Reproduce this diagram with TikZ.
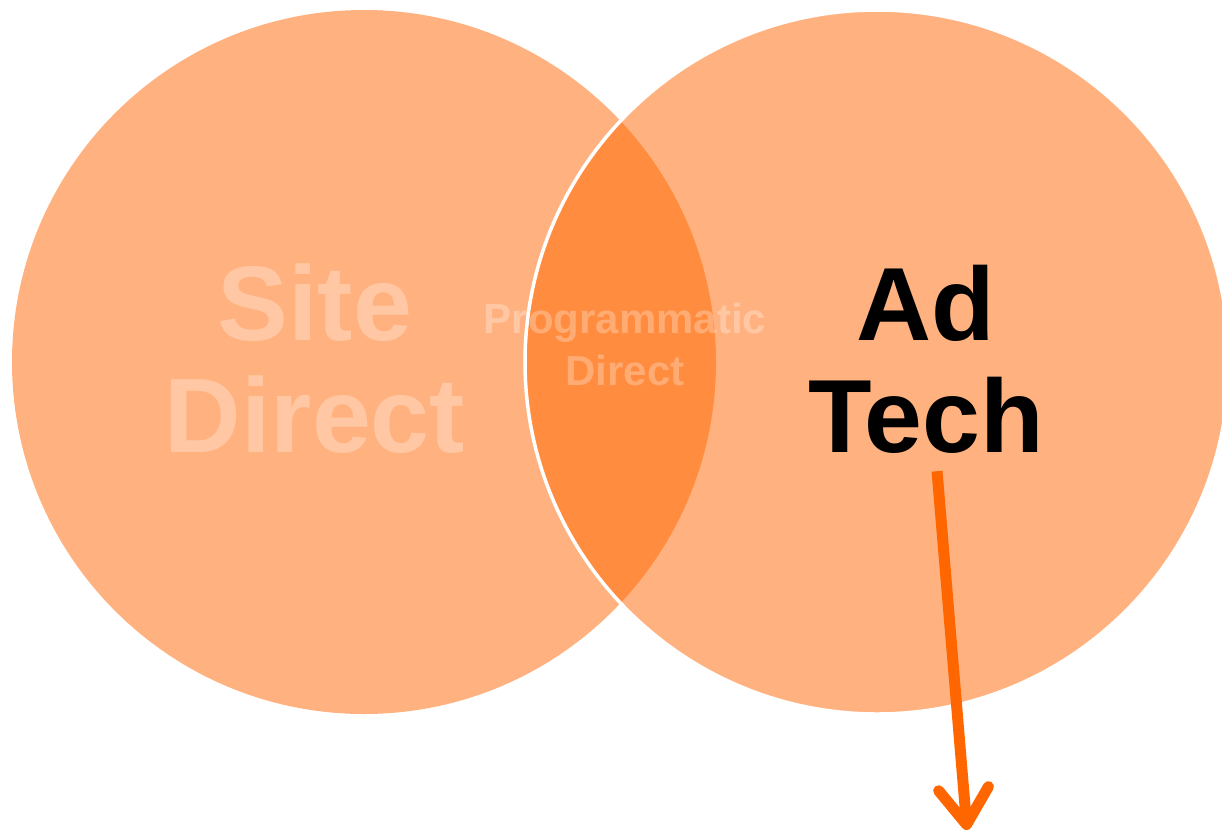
\documentclass[tikz,border=0pt]{standalone}
\usepackage{fontspec}
\setmainfont{Liberation Sans}
\usetikzlibrary{arrows.meta}

\definecolor{adorange}{HTML}{FF6600}

\tikzset{
    bubble/.style = {fill = adorange, fill opacity = 0.5},
    faded/.style = {text = white, text opacity = 0.28, align = center, inner sep = 0pt, anchor = base},
    pointer/.style = {draw = adorange, line width = 11pt, -{Straight Barb[length = 36pt, width = 50pt, round]}}
}

\begin{document}
\begin{tikzpicture}[x = 1pt, y = -1pt]
        \useasboundingbox (0,0) rectangle (1222,836);

        \fill [bubble] (364,362) circle (352pt);
        \fill [bubble] (877,362) circle (352pt);
        \draw [white, line width = 3.5pt] (877,362) circle (352pt);

        \node (site) at (315, 452) [faded, font = \bfseries\fontsize{106}{112}\selectfont] {Site\\Direct};
        \node (prog) at (625, 385) [faded, font = \bfseries\fontsize{42}{52}\selectfont] {Programmatic\\Direct};
        \node (adtech) at (926, 452) [align = center, inner sep = 0pt, anchor = base, font = \bfseries\fontsize{104}{112}\selectfont] {Ad\\Tech};

        \coordinate (tip) at (967, 830);
        \draw [pointer] ([shift = {(11,18)}]adtech.south) -- (tip);
    \end{tikzpicture}
\end{document}
